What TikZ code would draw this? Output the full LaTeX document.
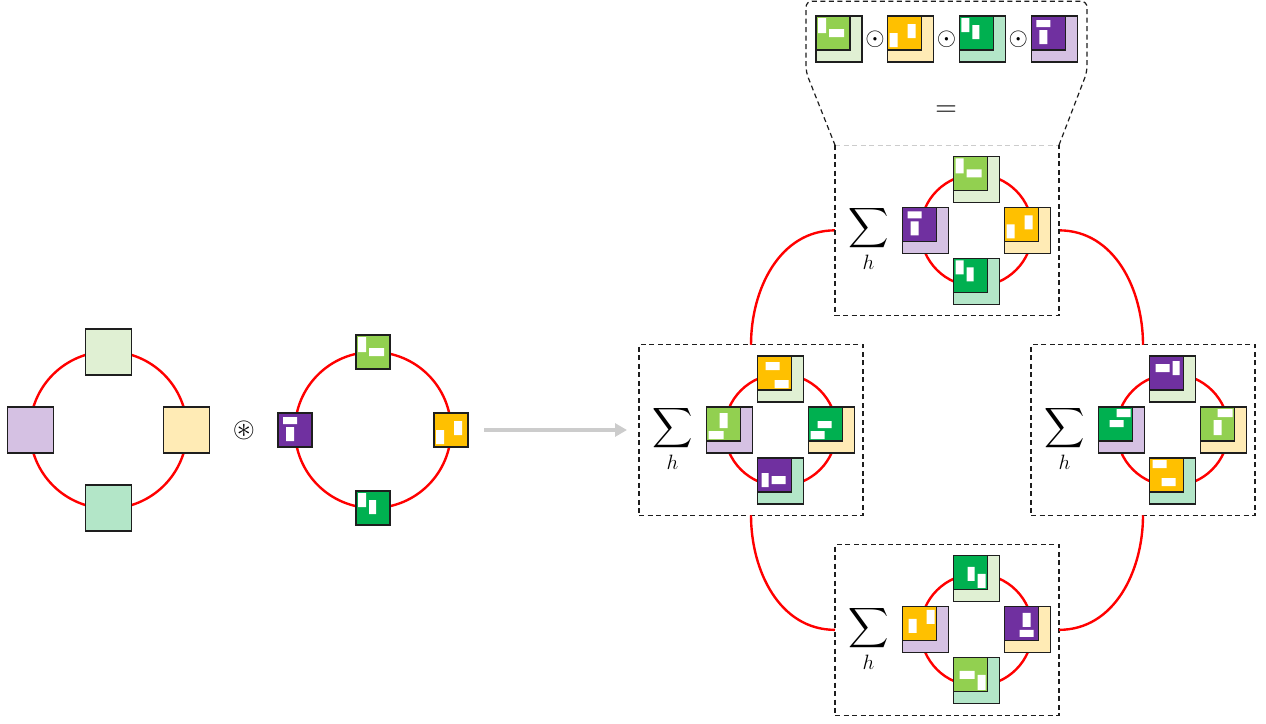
\documentclass[tikz,border=0pt]{standalone}
\usepackage{amsmath,amssymb}
\usetikzlibrary{arrows.meta}

\definecolor{kG}{HTML}{92D050}
\definecolor{kO}{HTML}{FFC000}
\definecolor{kD}{HTML}{00B050}
\definecolor{kP}{HTML}{7030A0}
\definecolor{lG}{HTML}{E0F0D3}
\definecolor{lY}{HTML}{FFEBB5}
\definecolor{lM}{HTML}{B3E6C8}
\definecolor{lP}{HTML}{D5C1E3}
\definecolor{edge}{HTML}{1E1E1E}

\tikzset{
  ring/.style={draw=red, line width=2.4pt},
  tileedge/.style={draw=edge, line width=1.1pt},
  lsq/.style={draw=edge, line width=1.1pt, minimum size=46pt, inner sep=0pt, outer sep=0pt},
  dashbox/.style={draw=edge, line width=1.2pt, dash pattern=on 5pt off 3.5pt},
  framebox/.style={dashbox, minimum width=224pt, minimum height=170.5pt, inner sep=0pt, outer sep=0pt},
  sumlabel/.style={font=\fontsize{28}{34}\selectfont, inner sep=0pt},
  oplabel/.style={font=\fontsize{24.88}{30}\selectfont, inner sep=0pt},
  biglabel/.style={font=\fontsize{24.88}{30}\selectfont, inner sep=0pt, scale=1.2, transform shape},
  arrowgray/.style={draw=black!20, line width=4pt, -{Triangle[length=12pt,width=13pt]}},
  % kernels: 34pt squares with two white bars, drawn about their centre
  kerG/.pic={\fill[kG] (-17,-17) rectangle (17,17);
    \fill[white] (-15,-15) rectangle (-7,0) (-4,-4) rectangle (11,4);
    \draw[tileedge] (-17,-17) rectangle (17,17);},
  kerO/.pic={\fill[kO] (-17,-17) rectangle (17,17);
    \fill[white] (-15,0) rectangle (-7,14) (3,-9) rectangle (11,5);
    \draw[tileedge] (-17,-17) rectangle (17,17);},
  kerD/.pic={\fill[kD] (-17,-17) rectangle (17,17);
    \fill[white] (-15,-15) rectangle (-7,-1) (-4,-8) rectangle (3,6);
    \draw[tileedge] (-17,-17) rectangle (17,17);},
  kerP/.pic={\fill[kP] (-17,-17) rectangle (17,17);
    \fill[white] (-12,-13) rectangle (2,-6) (-9,-3) rectangle (-1,11);
    \draw[tileedge] (-17,-17) rectangle (17,17);},
}

% light 46pt square carrying a (rotated) kernel in its upper left corner
\newcommand{\ctile}[5]{%
  \node[lsq, fill=#3] (#1) at #2 {};
  \pic[rotate=#5] at ([shift={(-6,-6)}]#1.center) {ker#4};
}
% the summed ring inside a frame: kernels at top, right, bottom, left
\newcommand{\sumring}[6]{%
  \coordinate (#1c) at ([xshift=141.5pt]#1.west);
  \draw[ring] (#1c) circle[radius=56];
  \ctile{#1t}{([yshift=51pt]#1c)}{lG}{#2}{#6}
  \ctile{#1r}{([xshift=51pt]#1c)}{lY}{#3}{#6}
  \ctile{#1b}{([yshift=-51pt]#1c)}{lM}{#4}{#6}
  \ctile{#1l}{([xshift=-51pt]#1c)}{lP}{#5}{#6}
  \node[sumlabel] (#1s) at ([xshift=33.5pt,yshift=-9pt]#1.west) {$\displaystyle\sum_h$};
}

\begin{document}
\begin{tikzpicture}[x=1pt, y=-1pt]
\useasboundingbox (0,0) rectangle (1266,723);

% ---- ring of plain squares ----
\coordinate (a) at (108.5,430);
\draw[ring] (a) circle[radius=78.5];
\node[lsq, fill=lG] (at) at ([yshift=78pt]a) {};
\node[lsq, fill=lY] (ar) at ([xshift=78pt]a) {};
\node[lsq, fill=lM] (ab) at ([yshift=-78pt]a) {};
\node[lsq, fill=lP] (al) at ([xshift=-78pt]a) {};

\node[biglabel, scale=0.95] (conv) at (244,430) {$\circledast$};

% ---- ring of kernels ----
\coordinate (m) at (373,430);
\draw[ring] (m) circle[radius=78];
\pic at ([yshift=78pt]m) {kerG};
\pic at ([xshift=78pt]m) {kerO};
\pic at ([yshift=-78pt]m) {kerD};
\pic at ([xshift=-78pt]m) {kerP};

% ---- arrow ----
\coordinate (arS) at (484,430);
\coordinate (arE) at (627,430);
\draw[arrowgray] (arS) -- (arE);

% ---- frames ----
\node[framebox] (L) at (751,430) {};
\node[framebox] (R) at (1143,430) {};
\node[framebox] (B) at (947,629.85) {};
\node[framebox, draw=none] (T) at (947,230.35) {};

% connectors between frames
\draw[ring] (L.north) to[out=90,in=180] (T.west);
\draw[ring] (T.east) to[out=0,in=90] (R.north);
\draw[ring] (L.south) to[out=-90,in=180] (B.west);
\draw[ring] (B.east) to[out=0,in=-90] (R.south);

% top frame and the widened frame of the product above it
\draw[draw=black!20, line width=0.6pt, dash pattern=on 5pt off 3.5pt] (T.north west) -- (T.north east);
\draw[dashbox] (T.north west) -- (T.south west) -- (T.south east) -- (T.north east);
\draw[dashbox, rounded corners=6pt] (T.north east) -- (1087,72) -- (1087,1.2) -- (806,1.2) -- (806,72) -- (T.north west);

% rings inside the frames
\sumring{T}{G}{O}{D}{P}{0}
\sumring{L}{O}{D}{P}{G}{90}
\sumring{R}{P}{G}{O}{D}{-90}
\sumring{B}{D}{P}{G}{O}{180}

% ---- product of the four kernels ----
\ctile{p1}{(839,39)}{lG}{G}{0}
\node[oplabel] (o1) at (875,39) {$\odot$};
\ctile{p2}{(910.7,39)}{lY}{O}{0}
\node[oplabel] (o2) at (946.5,39) {$\odot$};
\ctile{p3}{(982.3,39)}{lM}{D}{0}
\node[oplabel] (o3) at (1018.3,39) {$\odot$};
\ctile{p4}{(1054.3,39)}{lP}{P}{0}
\node[biglabel] (eq) at (946,111) {$=$};

\end{tikzpicture}
\end{document}
